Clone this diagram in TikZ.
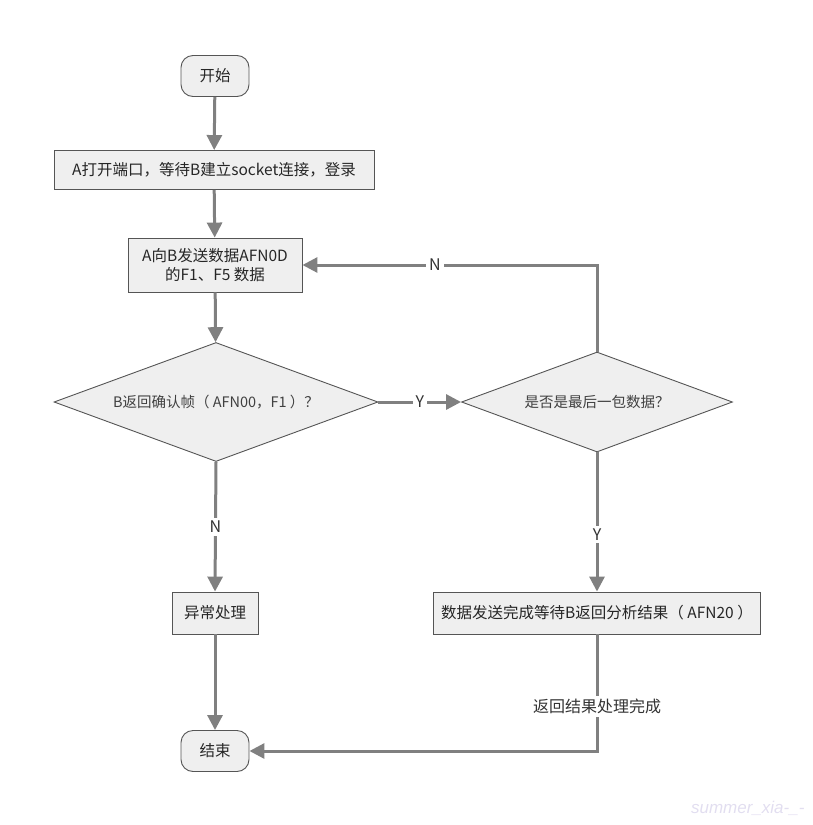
\documentclass[tikz,border=0pt]{standalone}
\usepackage{fontspec}
\setmainfont{Noto Sans CJK SC}
\newfontfamily\markfont{Liberation Sans}
\usetikzlibrary{arrows.meta,shapes.geometric}
\definecolor{boxfill}{HTML}{EFEFEF}
\definecolor{linegray}{HTML}{808080}
\definecolor{edgegray}{HTML}{555555}
\definecolor{wmark}{HTML}{E2DEF0}
\tikzset{
  base/.style={draw=edgegray, line width=0.9pt, fill=boxfill, text=black!85,
               font=\fontsize{15.5}{19}\selectfont, align=center, inner sep=0pt},
  terminal/.style={base, rounded corners=12pt, minimum width=68pt, minimum height=41pt},
  procbox/.style={base, rectangle},
  decision/.style={base, diamond, font=\fontsize{14.5}{17}\selectfont, text=black!75},
  flow/.style={draw=linegray, line width=3pt,
               -{Triangle[length=15pt,width=15pt]}},
  lbl/.style={fill=white, inner sep=3pt, text=black!80,
              font=\fontsize{16}{19}\selectfont}
}
\begin{document}
\begin{tikzpicture}[x=1pt,y=-1pt]
\useasboundingbox (0,0) rectangle (812,825);

% nodes
\node[terminal] (start) at (215,76) {开始};
\node[procbox, minimum width=320pt, minimum height=39pt] (open) at (214,170)
  {A打开端口，等待B建立socket连接，登录};
\node[procbox, minimum width=174pt, minimum height=54pt] (send) at (215,265)
  {A向B发送数据AFN0D\\的F1、F5 数据};
\node[decision, minimum width=324pt, minimum height=119pt, shape aspect=2.7] (ack) at (216,402)
  {B返回确认帧（ AFN00，F1 ）？};
\node[decision, minimum width=271pt, minimum height=100pt, shape aspect=2.7] (last) at (597,402)
  {是否是最后一包数据？};
\node[procbox, minimum width=86pt, minimum height=42pt] (err) at (215,613) {异常处理};
\node[procbox, minimum width=327pt, minimum height=42pt] (done) at (597,613)
  {数据发送完成等待B返回分析结果（ AFN20 ）};
\node[terminal] (stop) at (215,751) {结束};

% connectors
\draw[flow] (start) -- (open);
\draw[flow] (open) -- (send);
\draw[flow] (send) -- (ack);
\draw[flow] (ack.east) -- node[lbl, pos=0.5] {Y} (last.west);
\coordinate (loopturn) at (last.north |- send.east);
\draw[flow] (last.north) -- (loopturn) -- node[lbl, pos=0.55] {N} (send.east);
\draw[flow] (ack.south) -- node[lbl, pos=0.5] {N} (err.north);
\draw[flow] (last.south) -- node[lbl, pos=0.59] {Y} (done.north);
\draw[flow] (err) -- (stop);
\coordinate (backturn) at (done.south |- stop.east);
\draw[flow] (done.south) -- node[lbl, pos=0.62] {返回结果处理完成} (backturn) -- (stop.east);

% author mark
\node[text=wmark, font=\markfont\fontsize{17}{19}\selectfont\itshape, anchor=east] (mark) at (808,808)
  {summer\_xia-\_-};
\end{tikzpicture}
\end{document}
